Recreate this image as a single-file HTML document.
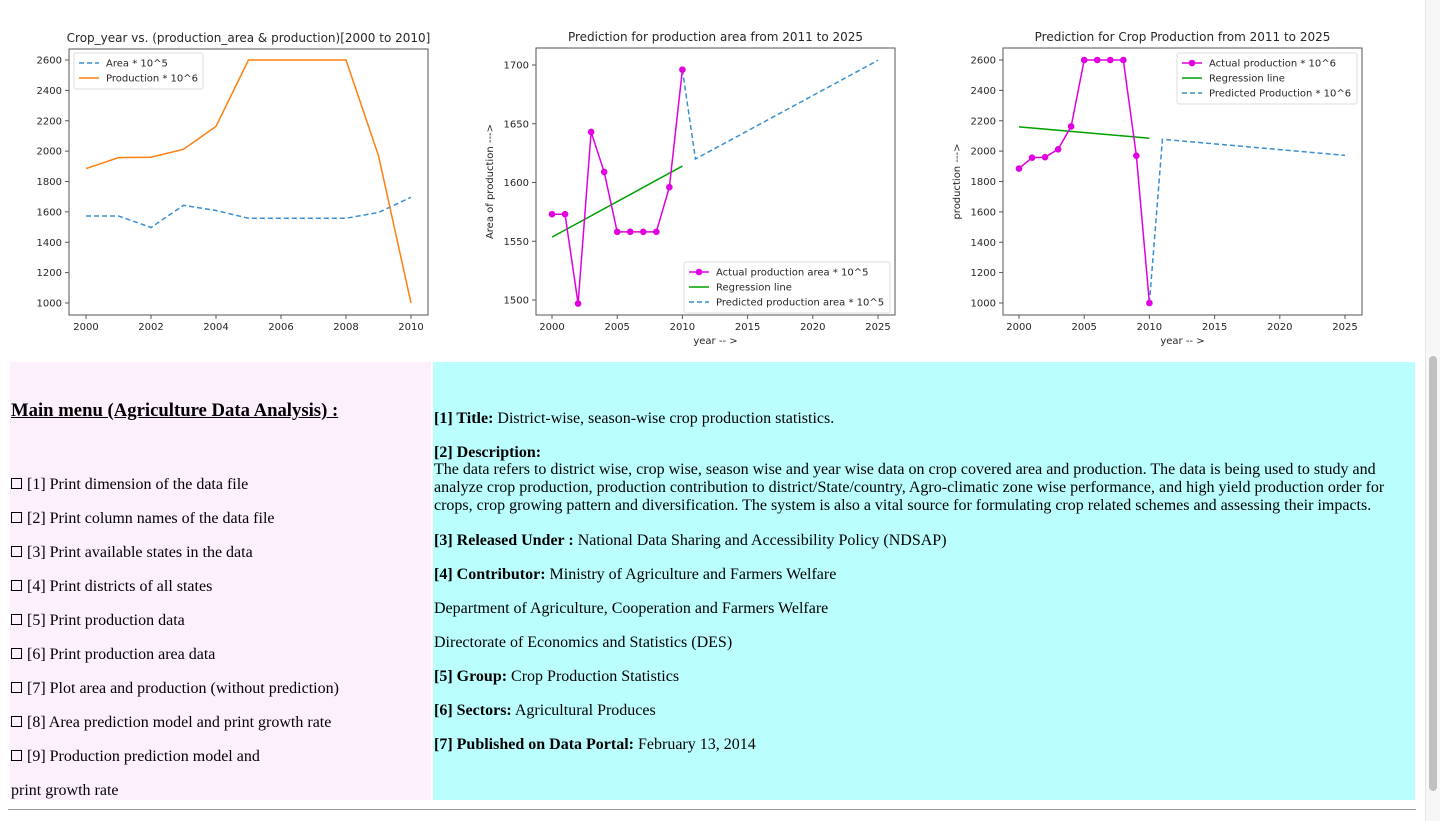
<!DOCTYPE html>
<html><head><meta charset="utf-8">
<style>
body{margin:0;width:1440px;height:821px;overflow:hidden;background:#fff;font-family:"Liberation Serif",serif;font-size:16px;color:#000;position:relative}
svg text{font-family:"DejaVu Sans",sans-serif;fill:#262626}
.abs{position:absolute;white-space:nowrap;line-height:18px}
#left{position:absolute;left:10px;top:362px;width:421px;height:438px;background:#fdf0fd}
#right{position:absolute;left:433px;top:362px;width:982px;height:438px;background:#bbfefe}
.sq{display:inline-block;width:9px;height:9px;border:1px solid #000;margin-right:5px;vertical-align:0px}
</style></head><body>
<svg id="charts" width="1440" height="355" style="position:absolute;left:0;top:0"></svg>

<div id="left"></div>
<div id="right"></div>
<div class="abs" style="left:11px;top:402px;font-size:18.7px;font-weight:bold;text-decoration:underline">Main menu (Agriculture Data Analysis) :</div>
<div class="abs" style="left:11px;top:476px"><span class="sq"></span>[1] Print dimension of the data file</div>
<div class="abs" style="left:11px;top:510px"><span class="sq"></span>[2] Print column names of the data file</div>
<div class="abs" style="left:11px;top:544px"><span class="sq"></span>[3] Print available states in the data</div>
<div class="abs" style="left:11px;top:578px"><span class="sq"></span>[4] Print districts of all states</div>
<div class="abs" style="left:11px;top:612px"><span class="sq"></span>[5] Print production data</div>
<div class="abs" style="left:11px;top:646px"><span class="sq"></span>[6] Print production area data</div>
<div class="abs" style="left:11px;top:680px"><span class="sq"></span>[7] Plot area and production (without prediction)</div>
<div class="abs" style="left:11px;top:714px"><span class="sq"></span>[8] Area prediction model and print growth rate</div>
<div class="abs" style="left:11px;top:748px"><span class="sq"></span>[9] Production prediction model and</div>
<div class="abs" style="left:11px;top:782px">print growth rate</div>

<div class="abs" style="left:434px;top:410px"><b>[1] Title:</b> District-wise, season-wise crop production statistics.</div>
<div class="abs" style="left:434px;top:444px"><b>[2] Description:</b></div>
<div class="abs" style="left:434px;top:461px;white-space:normal;width:975px">The data refers to district wise, crop wise, season wise and year wise data on crop covered area and production. The data is being used to study and analyze crop production, production contribution to district/State/country, Agro-climatic zone wise performance, and high yield production order for crops, crop growing pattern and diversification. The system is also a vital source for formulating crop related schemes and assessing their impacts.</div>
<div class="abs" style="left:434px;top:532px"><b>[3] Released Under :</b> National Data Sharing and Accessibility Policy (NDSAP)</div>
<div class="abs" style="left:434px;top:566px"><b>[4] Contributor:</b> Ministry of Agriculture and Farmers Welfare</div>
<div class="abs" style="left:434px;top:600px">Department of Agriculture, Cooperation and Farmers Welfare</div>
<div class="abs" style="left:434px;top:634px">Directorate of Economics and Statistics (DES)</div>
<div class="abs" style="left:434px;top:668px"><b>[5] Group:</b> Crop Production Statistics</div>
<div class="abs" style="left:434px;top:702px"><b>[6] Sectors:</b> Agricultural Produces</div>
<div class="abs" style="left:434px;top:736px"><b>[7] Published on Data Portal:</b> February 13, 2014</div>
<div style="position:absolute;left:8px;top:809px;width:1408px;height:1px;background:#999"></div>
<div style="position:absolute;left:1425px;top:0;width:15px;height:821px;background:#f7f7f7;border-left:1px solid #e6e6e6"></div>
<div style="position:absolute;left:1429px;top:356px;width:8px;height:435px;background:#c1c1c1;border-radius:4px"></div>

<script>
// Chart 1 data
const years1 = [2000,2001,2002,2003,2004,2005,2006,2007,2008,2009,2010];
const areaVals = [1573,1573,1497,1643,1609,1558,1558,1558,1558,1596,1696];
const prodVals = [1885,1957,1960,2012,2163,2600,2600,2600,2600,1970,1000];
const ticks1X = [2000,2002,2004,2006,2008,2010];
const ticksProdY = [1000,1200,1400,1600,1800,2000,2200,2400,2600];
// Chart 2 data
const regAreaYears = [2000,2010];
const regAreaVals = [1553.5,1614];
const predAreaYears = [2010,2011,2025];
const predAreaVals = [1696,1620,1704];
const ticksAreaY = [1500,1550,1600,1650,1700];
const ticks2X = [2000,2005,2010,2015,2020,2025];
// Chart 3 data
const regProdYears = [2000,2010];
const regProdVals = [2160,2085];
const predProdYears = [2010,2011,2025];
const predProdVals = [1000,2078,1972];

const NS='http://www.w3.org/2000/svg';
const svg=document.getElementById('charts');
function el(tag,attrs,parent){const e=document.createElementNS(NS,tag);for(const k in attrs)e.setAttribute(k,attrs[k]);(parent||svg).appendChild(e);return e;}
function scale(d0,d1,r0,r1){return v=>r0+(v-d0)/(d1-d0)*(r1-r0);}

function axes(g,box,xs,ys,xt,yt,title,xl,yl){
  el('rect',{x:box.x0,y:box.y0,width:box.x1-box.x0,height:box.y1-box.y0,fill:'#fff',stroke:'#555','stroke-width':1},g);
  xt.forEach(t=>{const x=xs(t);el('line',{x1:x,x2:x,y1:box.y1,y2:box.y1+4,stroke:'#555'},g);
    const tx=el('text',{x:x,y:box.y1+15,'text-anchor':'middle','font-size':10},g);tx.textContent=t;
    });
  yt.forEach(t=>{const y=ys(t);el('line',{x1:box.x0-4,x2:box.x0,y1:y,y2:y,stroke:'#555'},g);
    const tx=el('text',{x:box.x0-7,y:y+3.5,'text-anchor':'end','font-size':10},g);tx.textContent=t;
    });
  const ti=el('text',{x:(box.x0+box.x1)/2,y:box.y0-7,'text-anchor':'middle','font-size':12},g);ti.textContent=title;
  
  if(xl){const t=el('text',{x:(box.x0+box.x1)/2,y:box.y1+29,'text-anchor':'middle','font-size':10},g);t.textContent=xl;
    }
  if(yl){const cx=box.x0-43,cy=(box.y0+box.y1)/2;const t=el('text',{x:cx,y:cy,'text-anchor':'middle','font-size':10,transform:`rotate(-90 ${cx} ${cy})`},g);t.textContent=yl;
    }
}
function line(g,xs,ys,X,Y,color,dash,name){
  const p=el('polyline',{points:X.map((x,i)=>xs(x)+','+ys(Y[i])).join(' '),fill:'none',stroke:color,'stroke-width':1.5,'stroke-dasharray':dash||'none'},g);
  
}
function dots(g,xs,ys,X,Y,color){
  X.forEach((x,i)=>{const c=el('circle',{cx:xs(x),cy:ys(Y[i]),r:3.3,fill:color},g);
    });
}
function legend(g,x,y,w,items){
  const h=items.length*15+6;
  const r=el('rect',{x:x,y:y,width:w,height:h,fill:'#fff',stroke:'#ddd',rx:2},g);
  
  items.forEach((it,i)=>{const yy=y+10+i*15;
    el('line',{x1:x+5,x2:x+25,y1:yy,y2:yy,stroke:it.c,'stroke-width':1.5,'stroke-dasharray':it.d||'none'},g);
    if(it.m)el('circle',{cx:x+15,cy:yy,r:3.3,fill:it.c},g);
    const t=el('text',{x:x+32,y:yy+3.5,'font-size':10},g);t.textContent=it.t;
    });
}
const BLUE='#1f77b4',ORANGE='#ff7f0e',MAG='#e000e0',GREEN='#00a000';
// Chart 1
{const g=el('g',{});
 const box={x0:69,x1:428,y0:49,y1:315};
 const xs=scale(2000,2010,86,411), ys=scale(1000,2600,303,60);
 axes(g,box,xs,ys,ticks1X,ticksProdY,'Crop_year vs. (production_area & production)[2000 to 2010]');
 line(g,xs,ys,years1,areaVals,'#3a8fd0','5,3','area-line');
 line(g,xs,ys,years1,prodVals,ORANGE,null,'production-line');
 legend(g,74,53,129,[{c:'#3a8fd0',d:'5,3',t:'Area * 10^5'},{c:ORANGE,t:'Production * 10^6'}]);}
// Chart 2
{const g=el('g',{});
 const box={x0:536,x1:895,y0:48,y1:315};
 const xs=scale(2000,2025,552,878), ys=scale(1500,1700,300,65);
 axes(g,box,xs,ys,ticks2X,ticksAreaY,'Prediction for production area from 2011 to 2025','year -- >','Area of production --->');
 line(g,xs,ys,regAreaYears,regAreaVals,GREEN,null,'regression-line');
 line(g,xs,ys,predAreaYears,predAreaVals,'#3a8fd0','5,3','predicted-area-line');
 line(g,xs,ys,years1,areaVals,MAG,null,'actual-area-line');
 dots(g,xs,ys,years1,areaVals,MAG);
 legend(g,684,262,206,[{c:MAG,m:1,t:'Actual production area * 10^5'},{c:GREEN,t:'Regression line'},{c:'#3a8fd0',d:'5,3',t:'Predicted production area * 10^5'}]);}
// Chart 3
{const g=el('g',{});
 const box={x0:1003,x1:1362,y0:48,y1:315};
 const xs=scale(2000,2025,1019,1345), ys=scale(1000,2600,303,60);
 axes(g,box,xs,ys,ticks2X,ticksProdY,'Prediction for Crop Production from 2011 to 2025','year -- >','production --->');
 line(g,xs,ys,regProdYears,regProdVals,GREEN,null,'regression-line');
 line(g,xs,ys,predProdYears,predProdVals,'#3a8fd0','5,3','predicted-production-line');
 line(g,xs,ys,years1,prodVals,MAG,null,'actual-production-line');
 dots(g,xs,ys,years1,prodVals,MAG);
 legend(g,1177,53,180,[{c:MAG,m:1,t:'Actual production * 10^6'},{c:GREEN,t:'Regression line'},{c:'#3a8fd0',d:'5,3',t:'Predicted Production * 10^6'}]);}
</script>
</body></html>
